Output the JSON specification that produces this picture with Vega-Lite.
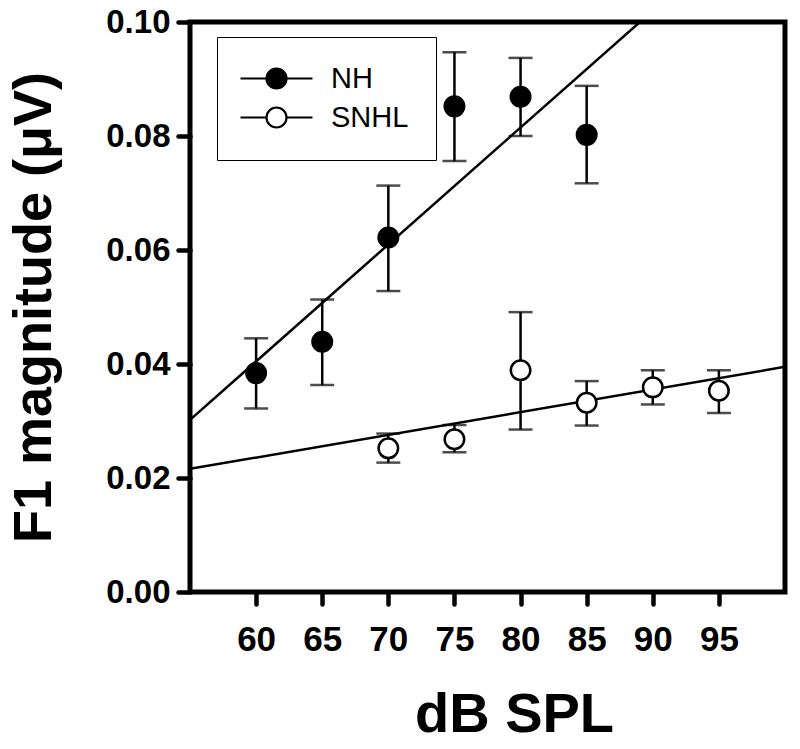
{
  "$schema": "https://vega.github.io/schema/vega-lite/v6.json",
  "width": 595,
  "height": 570,
  "autosize": "none",
  "padding": {"left": 190, "top": 22, "right": 15, "bottom": 157},
  "background": "white",
  "config": {
    "view": {"stroke": "black", "strokeWidth": 5},
    "axis": {"grid": false, "domain": false, "ticks": true, "tickColor": "black", "tickWidth": 4.5, "tickSize": 12, "tickCap": "round", "labelColor": "black", "titleColor": "black", "labelFont": "Liberation Sans", "titleFont": "Liberation Sans", "labelFontWeight": "bold", "titleFontWeight": "bold"}
  },
  "datasets": {
    "pts": [
      {"dB": 60, "group": "NH", "mean": 0.0384, "lo": 0.0322, "hi": 0.0445},
      {"dB": 65, "group": "NH", "mean": 0.0439, "lo": 0.0363, "hi": 0.0513},
      {"dB": 70, "group": "NH", "mean": 0.0622, "lo": 0.0528, "hi": 0.0713},
      {"dB": 75, "group": "NH", "mean": 0.0852, "lo": 0.0756, "hi": 0.0947},
      {"dB": 80, "group": "NH", "mean": 0.0869, "lo": 0.0800, "hi": 0.0937},
      {"dB": 85, "group": "NH", "mean": 0.0802, "lo": 0.0717, "hi": 0.0888},
      {"dB": 70, "group": "SNHL", "mean": 0.0252, "lo": 0.0227, "hi": 0.0278},
      {"dB": 75, "group": "SNHL", "mean": 0.0268, "lo": 0.0245, "hi": 0.0293},
      {"dB": 80, "group": "SNHL", "mean": 0.0389, "lo": 0.0285, "hi": 0.0491},
      {"dB": 85, "group": "SNHL", "mean": 0.0332, "lo": 0.0292, "hi": 0.0370},
      {"dB": 90, "group": "SNHL", "mean": 0.0359, "lo": 0.0329, "hi": 0.0389},
      {"dB": 95, "group": "SNHL", "mean": 0.0353, "lo": 0.0314, "hi": 0.0389}
    ],
    "fits": [
      {"dB": 55, "group": "NH", "fit": 0.0302},
      {"dB": 100, "group": "NH", "fit": 0.1225},
      {"dB": 55, "group": "SNHL", "fit": 0.0216},
      {"dB": 100, "group": "SNHL", "fit": 0.0395}
    ]
  },
  "encoding": {
    "x": {"type": "quantitative", "scale": {"domain": [55, 100], "nice": false, "zero": false},
      "axis": {"values": [60, 65, 70, 75, 80, 85, 90, 95], "title": "dB SPL", "labelFontSize": 35, "labelPadding": 18, "titleFontSize": 56, "titlePadding": 30, "titleX": 324}},
    "y": {"type": "quantitative", "scale": {"domain": [0, 0.1], "nice": false},
      "axis": {"values": [0, 0.02, 0.04, 0.06, 0.08, 0.1], "format": ".2f", "title": "F1 magnitude (μV)", "labelFontSize": 33, "labelPadding": 8, "titleFontSize": 54, "titlePadding": 44}}
  },
  "layer": [
    {
      "data": {"name": "fits"},
      "mark": {"type": "line", "color": "black", "strokeWidth": 2.5, "clip": true},
      "encoding": {"x": {"field": "dB"}, "y": {"field": "fit"}, "detail": {"field": "group"}}
    },
    {
      "data": {"name": "pts"},
      "mark": {"type": "rule", "color": "black", "strokeWidth": 2.5},
      "encoding": {"x": {"field": "dB"}, "y": {"field": "lo"}, "y2": {"field": "hi"}}
    },
    {
      "data": {"name": "pts"},
      "mark": {"type": "tick", "color": "black", "orient": "horizontal", "size": 24, "thickness": 2.5},
      "encoding": {"x": {"field": "dB"}, "y": {"field": "lo"}}
    },
    {
      "data": {"name": "pts"},
      "mark": {"type": "tick", "color": "black", "orient": "horizontal", "size": 24, "thickness": 2.5},
      "encoding": {"x": {"field": "dB"}, "y": {"field": "hi"}}
    },
    {
      "data": {"name": "pts"},
      "mark": {"type": "point", "shape": "circle", "filled": true, "size": 380, "stroke": "black", "strokeWidth": 2.5, "opacity": 1},
      "encoding": {
        "x": {"field": "dB"},
        "y": {"field": "mean"},
        "fill": {"field": "group", "type": "nominal",
          "scale": {"domain": ["NH", "SNHL"], "range": ["black", "white"]},
          "legend": {"title": null, "orient": "none", "legendX": 27, "legendY": 15,
            "strokeColor": "black", "padding": 27, "symbolType": "M-1.8,0L0.8,0M2.8,0L5.4,0M0.8,0A1,1,0,1,1,2.8,0A1,1,0,1,1,0.8,0Z",
            "symbolSize": 400, "symbolStrokeColor": "black", "symbolStrokeWidth": 2.2, "symbolOpacity": 1,
            "labelFont": "Liberation Sans", "labelFontSize": 29, "labelFontWeight": "normal", "labelColor": "black",
            "labelOffset": 58, "rowPadding": 9, "labelExpr": "datum.label + '\u00a0\u00a0\u00a0\u00a0\u00a0\u00a0'"}
        }
      }
    }
  ]
}
